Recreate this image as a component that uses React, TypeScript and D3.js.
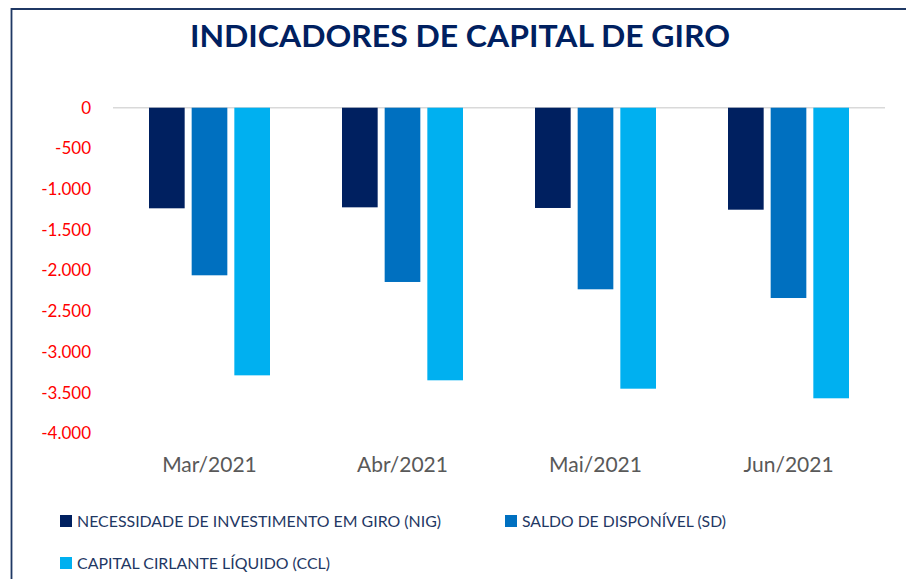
import React from "react";
import * as d3 from "d3";

const categories = ["Mar/2021", "Abr/2021", "Mai/2021", "Jun/2021"];
const seriesNames = [
  "NECESSIDADE DE INVESTIMENTO EM GIRO (NIG)",
  "SALDO DE DISPONÍVEL (SD)",
  "CAPITAL CIRLANTE LÍQUIDO (CCL)",
];
const nigValues = [-1236, -1224, -1232, -1253];
const sdValues = [-2059, -2141, -2231, -2338];
const cclValues = [-3288, -3349, -3452, -3570];
const yTicks = [0, -500, -1000, -1500, -2000, -2500, -3000, -3500, -4000];
const colors = ["#002060", "#0070C0", "#00B0F0"];

const W = 906;
const H = 579;
const FONT = "Lato, 'Open Sans', sans-serif";

function fmt(v: number) {
  const s = Math.abs(v).toString().replace(/\B(?=(\d{3})+(?!\d))/g, ".");
  return (v < 0 ? "-" : "") + s;
}

export default function App() {
  const series = [nigValues, sdValues, cclValues];
  const x = d3.scaleBand<string>().domain(categories).range([113, 885]).padding(0);
  const groupW = 121;
  const inner = d3
    .scaleBand<number>()
    .domain([0, 1, 2])
    .range([0, groupW])
    .paddingInner(0.164)
    .paddingOuter(0);
  const y = d3.scaleLinear().domain([-4000, 0]).range([433.3, 107.7]);

  const legendItems = [
    { name: seriesNames[0], x: 60, y: 521, len: 364 },
    { name: seriesNames[1], x: 505, y: 521, len: 204 },
    { name: seriesNames[2], x: 60, y: 563, len: 253 },
  ];

  return (
    <svg
      width={W}
      height={H}
      style={{ position: "absolute", left: 0, top: 0, background: "#fff" }}
    >
      <rect x={0} y={0} width={W} height={H} fill="#fff" />
      <path
        d={`M11.5,${H + 2} L11.5,9 L${W + 2},9`}
        fill="none"
        stroke="#1F3864"
        strokeWidth={1.8}
      />
      <text
        x={460}
        y={47}
        textAnchor="middle"
        fontFamily={FONT}
        fontWeight={700}
        fontSize={30}
        fill="#002060"
        textLength={540}
        lengthAdjust="spacingAndGlyphs"
      >
        INDICADORES DE CAPITAL DE GIRO
      </text>
      <line
        x1={113}
        x2={885}
        y1={y(0)}
        y2={y(0)}
        stroke="#D9D9D9"
        strokeWidth={1.5}
      />
      {yTicks.map((t) => (
        <text
          key={t}
          x={91}
          y={y(t)}
          dy="0.35em"
          textAnchor="end"
          fontFamily={FONT}
          fontSize={17}
          fill="#FF0000"
        >
          {fmt(t)}
        </text>
      ))}
      {categories.map((c, ci) => {
        const cx = (x(c) as number) + x.bandwidth() / 2;
        const gx = cx - groupW / 2;
        return (
          <g key={c}>
            {series.map((s, si) => {
              const v = s[ci];
              const top = y(Math.max(0, v));
              const bottom = y(Math.min(0, v));
              return (
                <rect
                  key={si}
                  x={gx + (inner(si) as number)}
                  y={top}
                  width={inner.bandwidth()}
                  height={bottom - top}
                  fill={colors[si]}
                />
              );
            })}
            <text
              x={cx}
              y={465}
              dy="0.35em"
              textAnchor="middle"
              fontFamily={FONT}
              fontSize={21}
              fill="#595959"
            >
              {c}
            </text>
          </g>
        );
      })}
      {legendItems.map((it, i) => (
        <g key={i}>
          <rect x={it.x} y={it.y - 6} width={12} height={12} fill={colors[i]} />
          <text
            x={it.x + 17}
            y={it.y}
            dy="0.35em"
            fontFamily={FONT}
            fontSize={16}
            fill="#1F3864"
            textLength={it.len}
            lengthAdjust="spacingAndGlyphs"
          >
            {it.name}
          </text>
        </g>
      ))}
    </svg>
  );
}
